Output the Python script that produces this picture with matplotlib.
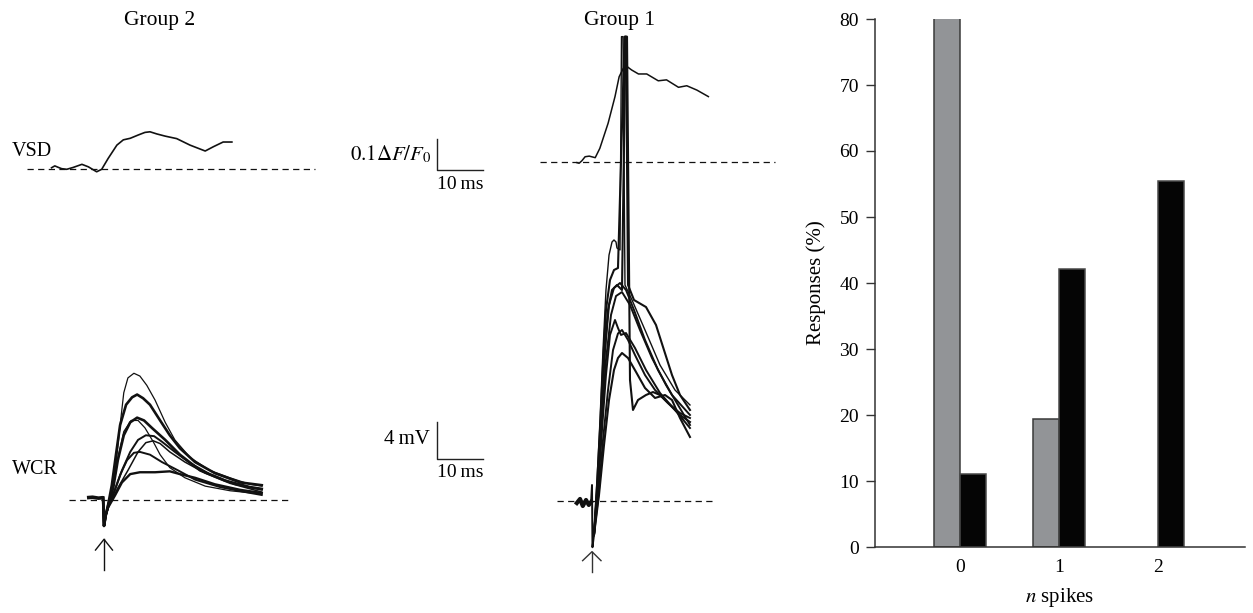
import matplotlib
matplotlib.use('Agg')
import matplotlib.pyplot as plt
import numpy as np

plt.rcParams['font.family'] = ['Liberation Serif', 'DejaVu Serif']
plt.rcParams['mathtext.fontset'] = 'stix'

# %%
# ---- data ----
# VSD traces (dF/F0) vs time from stimulus (ms)
g2_vsd_t = [-11.4, -10.7, -9.9, -9.2, -8.1, -6.7, -4.8, -3.4, -1.6, -0.5, 0.9, 2.8, 4.2,
            5.7, 7.5, 8.9, 10.0, 11.5, 13.3, 15.8, 18.7, 22.0, 23.8, 25.9, 27.8]
g2_vsd_v = [0.005, 0.011, 0.006, 0.002, 0.0, 0.006, 0.016, 0.008, -0.008, 0.0, 0.035, 0.078,
            0.095, 0.100, 0.111, 0.119, 0.121, 0.114, 0.107, 0.099, 0.078, 0.059, 0.073, 0.088, 0.088]

g1_vsd_t = [-3.3, -2.8, -2.2, -1.5, -0.6, 0.7, 1.7, 3.5, 5.0, 5.9, 6.8, 7.7, 8.6, 10.1,
            11.9, 14.4, 16.2, 18.8, 20.6, 22.8, 25.3]
g1_vsd_v = [-0.003, -0.005, 0.003, 0.016, 0.018, 0.013, 0.043, 0.124, 0.210, 0.274, 0.301,
            0.306, 0.296, 0.283, 0.283, 0.261, 0.264, 0.240, 0.245, 0.231, 0.210]

# WCR group 2 (mV), shared pre-stimulus part + 8 sweeps
g2_pre_t = [-3.7, -2.5, -1.2, -0.2, 0.0, 0.4]
g2_pre_v = [0.25, 0.3, 0.2, 0.25, -2.8, -1.6]

g2_w1_t = [0.9, 1.7, 2.6, 3.5, 4.3, 5.2, 6.5, 7.8, 9.3, 11.1, 13.3, 15.4, 18.7, 23.0, 27.4, 31.7, 34.3]
g2_w1_v = [-0.5, 1.1, 3.8, 8.1, 11.6, 13.2, 13.7, 13.4, 12.4, 10.8, 8.4, 6.5, 4.6, 3.2, 2.4, 1.7, 1.5]
g2_w2_t = [0.9, 1.7, 2.6, 3.5, 4.8, 6.1, 7.2, 8.5, 10.0, 12.2, 14.3, 16.5, 19.8, 24.1, 29.6, 34.3]
g2_w2_v = [-0.5, 1.6, 4.9, 8.1, 10.3, 11.1, 11.4, 11.0, 10.3, 8.6, 7.0, 5.6, 4.1, 2.9, 1.9, 1.6]
g2_w3_t = [0.9, 2.0, 3.0, 4.3, 5.7, 7.2, 8.7, 10.4, 13.3, 16.5, 20.9, 26.3, 31.7, 34.3]
g2_w3_v = [-0.6, 1.3, 4.3, 7.0, 8.4, 8.9, 8.6, 7.8, 6.5, 4.9, 3.2, 2.1, 1.4, 1.2]
g2_w4_t = [0.9, 2.0, 3.0, 4.3, 5.9, 7.4, 8.9, 10.7, 12.2, 14.3, 17.6, 22.0, 27.4, 34.3]
g2_w4_v = [-0.6, 1.5, 4.5, 7.4, 8.6, 8.6, 7.8, 6.3, 4.9, 3.5, 2.4, 1.5, 1.0, 0.65]
g2_w5_t = [0.9, 2.4, 3.9, 5.7, 7.4, 9.1, 10.9, 12.6, 15.4, 18.7, 23.0, 28.5, 34.3]
g2_w5_v = [-0.8, 1.1, 3.2, 5.2, 6.5, 7.0, 6.9, 6.3, 5.2, 4.0, 2.8, 1.7, 1.1]
g2_w6_t = [0.9, 3.0, 5.2, 7.4, 9.1, 10.7, 12.2, 14.3, 17.6, 22.0, 27.4, 34.3]
g2_w6_v = [-0.8, 1.3, 3.2, 5.2, 6.2, 6.4, 6.1, 5.2, 4.1, 2.9, 1.8, 0.86]
g2_w7_t = [0.9, 2.2, 3.5, 5.0, 6.5, 7.8, 10.0, 12.6, 16.1, 19.8, 25.2, 30.7, 34.3]
g2_w7_v = [-0.8, 0.9, 2.7, 4.3, 5.1, 5.2, 4.9, 4.1, 3.2, 2.2, 1.4, 0.86, 0.54]
g2_w8_t = [0.9, 2.4, 3.9, 5.7, 7.8, 11.1, 14.3, 16.5, 19.8, 24.1, 29.6, 34.3]
g2_w8_v = [-0.8, 0.5, 1.9, 2.8, 3.0, 3.0, 3.1, 2.8, 2.4, 1.7, 1.1, 0.76]

# WCR group 1 (mV), pre-stimulus noise + stimulus artefact + 8 sweeps (3 fire a spike)
g1_pre_t = [-3.3, -2.6, -2.0, -1.3, -0.7, -0.2, 0.0, 0.1, 0.43]
g1_pre_v = [-0.22, 0.22, -0.54, 0.11, -0.43, -0.11, 1.73, -5.0, -3.68]

g1_w1_t = [0.43, 1.09, 1.74, 2.39, 3.04, 3.70, 4.35, 4.78, 5.22, 5.43, 6.09, 6.41, 6.74, 7.17,
           8.70, 11.52, 14.78, 18.04, 21.30]
g1_w1_v = [-3.68, 2.27, 8.76, 16.32, 22.81, 26.59, 28.0, 28.22, 28.0, 27.35, 27.14, 50.2, 50.2,
           23.35, 21.73, 18.49, 14.70, 12.0, 10.38]
g1_w2_t = [0.43, 1.09, 1.74, 2.39, 3.04, 3.91, 4.78, 5.65, 7.07, 7.39, 7.83, 9.13, 11.74,
           13.91, 15.65, 17.39, 19.13, 21.30]
g1_w2_v = [-3.68, 1.73, 7.68, 14.70, 20.65, 23.89, 24.97, 25.19, 50.2, 50.2, 23.35, 21.73,
           20.97, 19.03, 16.32, 13.62, 11.46, 9.84]
g1_w3_t = [0.43, 1.30, 1.96, 2.61, 3.48, 4.35, 5.43, 6.52, 7.28, 7.61, 8.26, 8.91, 10.0,
           11.74, 13.26, 14.78, 16.96, 19.13, 21.30]
g1_w3_v = [-3.68, 2.27, 8.76, 15.24, 20.65, 22.81, 23.35, 22.81, 50.2, 50.2, 13.08, 9.84,
           10.92, 11.46, 11.78, 11.46, 10.38, 9.30, 8.54]
g1_w4_t = [0.43, 1.30, 1.96, 2.83, 3.70, 4.78, 6.09, 7.39, 9.13, 11.52, 14.35, 17.39, 21.30]
g1_w4_v = [-3.68, 2.27, 8.76, 16.32, 21.19, 23.03, 23.57, 22.81, 20.65, 17.41, 14.16, 11.46, 9.30]
g1_w5_t = [0.43, 1.30, 2.17, 3.04, 4.13, 5.22, 6.52, 8.26, 10.43, 13.04, 16.09, 18.70, 21.30]
g1_w5_v = [-3.68, 1.73, 8.76, 15.24, 20.11, 22.16, 22.59, 21.19, 18.49, 15.46, 12.54, 10.38, 8.22]
g1_w6_t = [0.43, 1.30, 2.17, 3.04, 3.91, 5.0, 5.65, 6.30, 7.39, 9.35, 11.74, 14.78, 18.04, 21.30]
g1_w6_v = [-3.68, 1.19, 7.68, 13.62, 17.95, 19.57, 18.70, 17.95, 18.16, 16.54, 14.16, 11.68, 9.84, 7.89]
g1_w7_t = [0.43, 1.52, 2.39, 3.48, 4.57, 5.65, 6.52, 7.83, 9.35, 11.52, 13.70, 16.52, 19.13, 21.30]
g1_w7_v = [-3.68, 1.19, 6.59, 11.99, 16.32, 18.11, 18.49, 17.41, 15.78, 13.62, 12.0, 10.59, 9.51, 8.97]
g1_w8_t = [0.43, 1.52, 2.61, 3.70, 4.78, 5.65, 6.52, 7.83, 9.57, 11.52, 13.70, 15.87, 17.39, 19.13, 21.30]
g1_w8_v = [-3.68, 0.65, 6.05, 10.92, 14.16, 15.46, 16.0, 15.46, 13.95, 12.22, 11.14, 11.46, 10.92, 8.97, 6.92]

# bar chart: responses (%) per number of spikes
n_spikes = [0, 1, 2]
resp_group2 = [80.3, 19.4, 0.0]   # grey
resp_group1 = [11.0, 42.1, 55.4]  # black

# %%
W, H = 1253, 613
fig = plt.figure(figsize=(W / 100, H / 100), dpi=100)

PX_MS = 4.6        # px per ms
PX_VSD = 310.0     # px per unit dF/F0
PX_MV = 9.25       # px per mV


def panel(x0, y0, ppy):
    # full-figure overlay axes, data origin at pixel (x0, y0)
    ax = fig.add_axes([0, 0, 1, 1])
    ax.set_xlim(-x0 / PX_MS, (W - x0) / PX_MS)
    ax.set_ylim((y0 - H) / ppy, y0 / ppy)
    ax.axis('off')
    ax.patch.set_alpha(0)
    return ax


ink = '#111111'
dash = (0, (5, 3.5))

# Group 2 VSD
ax = panel(104, 169.3, PX_VSD)
ax.plot([-16.7, 45.9], [0, 0], color=ink, lw=0.9, ls=dash)
ax.plot(g2_vsd_t, g2_vsd_v, color=ink, lw=1.2)

# Group 2 WCR
ax = panel(104, 500, PX_MV)
ax.plot([-7.6, 40.4], [0, 0], color=ink, lw=0.9, ls=dash)
ax.plot(g2_pre_t[:4], g2_pre_v[:4], color=ink, lw=2.6, solid_capstyle='butt')
g2_sweeps = [(g2_w1_t, g2_w1_v, 0.9), (g2_w2_t, g2_w2_v, 1.9), (g2_w3_t, g2_w3_v, 1.9),
             (g2_w4_t, g2_w4_v, 0.9), (g2_w5_t, g2_w5_v, 1.4), (g2_w6_t, g2_w6_v, 1.1),
             (g2_w7_t, g2_w7_v, 1.4), (g2_w8_t, g2_w8_v, 1.7)]
for t, v, lw in g2_sweeps:
    ax.plot(g2_pre_t[3:] + t, g2_pre_v[3:] + v, color=ink, lw=lw)
# stimulus arrow
ax.plot([0, 0], [-7.57, -4.25], color=ink, lw=1.0)
ax.plot([-1.85, 0, 1.85], [-5.41, -4.25, -5.41], color=ink, lw=1.0)

# Group 1 VSD
ax = panel(592, 161.7, PX_VSD)
ax.plot([-11.3, 39.8], [0, 0], color=ink, lw=0.9, ls=dash)
ax.plot(g1_vsd_t, g1_vsd_v, color=ink, lw=1.1)
# scale bar
ax.plot([-33.7, -33.7, -23.7], [-0.027 + 0.1, -0.027, -0.027], color='#222222', lw=1.0)
ax.text(-35.0, 0.022, r'$0.1\Delta F/F_0$', ha='right', va='center', fontsize=15)
ax.text(-28.7, -0.075, '10\u2009ms', ha='center', va='center', fontsize=14)

# Group 1 WCR
ax = panel(592, 501, PX_MV)
ax.plot([-7.6, 26.3], [0, 0], color=ink, lw=0.9, ls=dash)
ax.plot(g1_pre_t[:6], g1_pre_v[:6], color=ink, lw=3.0)
ax.plot(g1_pre_t[5:], g1_pre_v[5:], color=ink, lw=1.4)
g1_sweeps = [(g1_w1_t, g1_w1_v, 1.0), (g1_w2_t, g1_w2_v, 1.5), (g1_w3_t, g1_w3_v, 1.5),
             (g1_w4_t, g1_w4_v, 1.4), (g1_w5_t, g1_w5_v, 1.4), (g1_w6_t, g1_w6_v, 1.4),
             (g1_w7_t, g1_w7_v, 1.4), (g1_w8_t, g1_w8_v, 1.5)]
for t, v, lw in g1_sweeps:
    ax.plot(t, v, color=ink, lw=lw)
# stimulus arrow
ax.plot([0, 0], [-7.64, -5.48], color='#333333', lw=1.0)
ax.plot([-2.04, 0, 1.96], [-6.45, -5.48, -6.45], color='#333333', lw=1.0)
# scale bar
ax.plot([-33.7, -33.7, -23.7], [8.54, 4.54, 4.54], color='#222222', lw=1.0)
ax.text(-35.2, 6.6, '4\u2009mV', ha='right', va='center', fontsize=15)
ax.text(-28.7, 3.03, '10\u2009ms', ha='center', va='center', fontsize=14)

# labels
fig.text(160 / W, 1 - 20 / H, 'Group 2', ha='center', va='center', fontsize=15.5)
fig.text(620 / W, 1 - 20 / H, 'Group 1', ha='center', va='center', fontsize=15.5)
fig.text(12 / W, 1 - 151 / H, 'VSD', ha='left', va='center', fontsize=14.5)
fig.text(12 / W, 1 - 470 / H, 'WCR', ha='left', va='center', fontsize=14.5)

# %%
# bar chart
bx = fig.add_axes([875 / W, (H - 547) / H, 370 / W, 528 / H])
x = np.array(n_spikes)
w = 0.265
g2_edge = [1.1 if r > 0 else 0 for r in resp_group2]
bx.bar(x - w / 2, resp_group2, w, color='#929497', edgecolor='#3a3a3a', lw=g2_edge)
bx.bar(x + w / 2, resp_group1, w, color='#050505', edgecolor='#4a4a4a', lw=1.1)
bx.set_xlim(-0.86, 2.88)
bx.set_ylim(0, 80)
bx.set_yticks(range(0, 81, 10))
bx.set_xticks(x)
for s in ['top', 'right']:
    bx.spines[s].set_visible(False)
for s in ['left', 'bottom']:
    bx.spines[s].set_color('#333333')
    bx.spines[s].set_linewidth(1.1)
bx.tick_params(axis='y', direction='out', length=6.5, width=1.0, color='#333333',
               pad=5, labelsize=14)
bx.tick_params(axis='x', length=0, pad=9, labelsize=14)
bx.set_ylabel('Responses (%)', fontsize=15, labelpad=10)
bx.set_xlabel(r'$n$ spikes', fontsize=15, labelpad=7)

fig.savefig('out.png', dpi=100)
